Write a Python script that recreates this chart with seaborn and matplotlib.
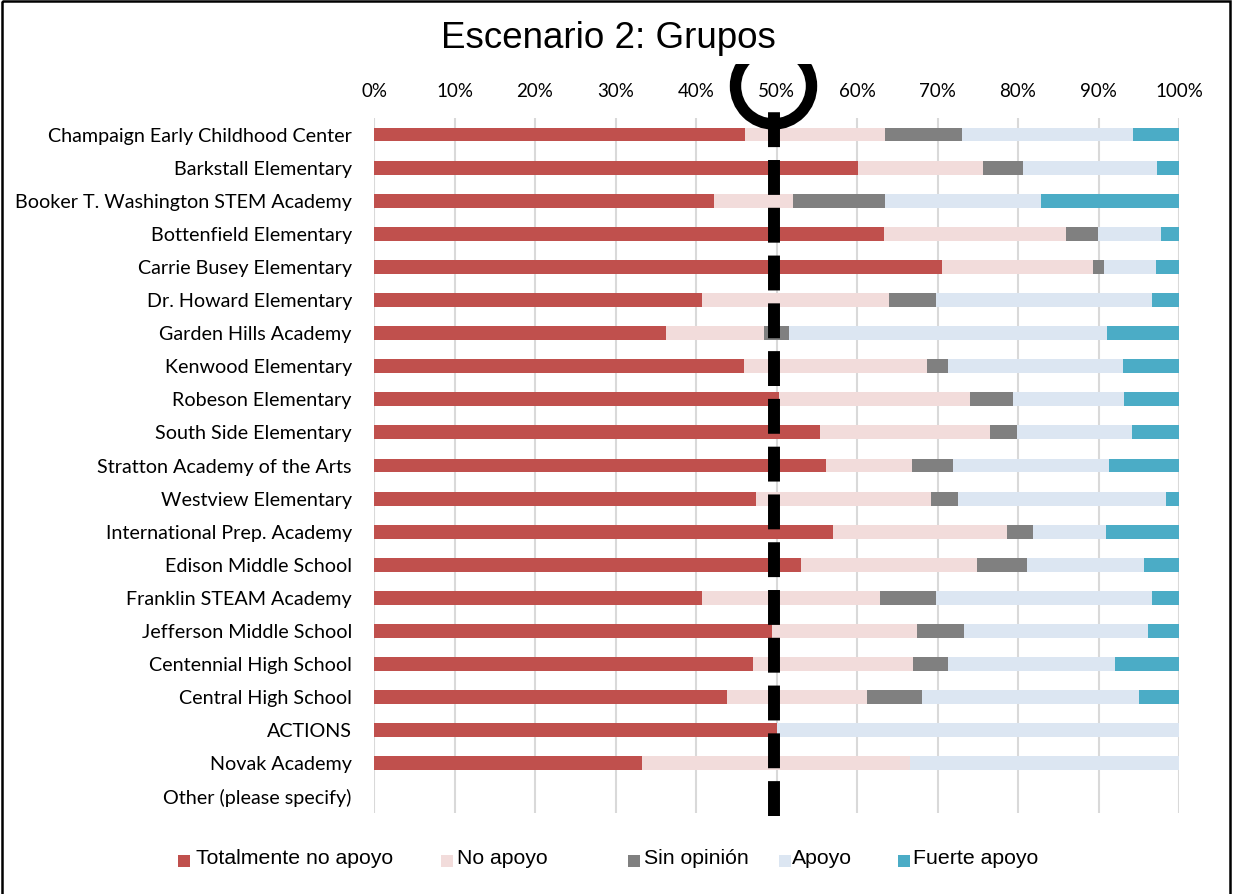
import numpy as np
import pandas as pd
import matplotlib
matplotlib.use("Agg")
import matplotlib.pyplot as plt
import seaborn as sns
from matplotlib.patches import Rectangle, Circle

# data (percent of responses per school)
schools = [
    "Champaign Early Childhood Center", "Barkstall Elementary",
    "Booker T. Washington STEM Academy", "Bottenfield Elementary",
    "Carrie Busey Elementary", "Dr. Howard Elementary", "Garden Hills Academy",
    "Kenwood Elementary", "Robeson Elementary", "South Side Elementary",
    "Stratton Academy of the Arts", "Westview Elementary",
    "International Prep. Academy", "Edison Middle School",
    "Franklin STEAM Academy", "Jefferson Middle School",
    "Centennial High School", "Central High School", "ACTIONS",
    "Novak Academy", "Other (please specify)",
]
totalmente_no = [46.1, 60.1, 42.2, 63.3, 70.6, 40.7, 36.3, 46.0, 50.3, 55.4,
                 56.2, 47.5, 57.0, 53.1, 40.7, 49.5, 47.1, 43.9, 50.0, 33.3, 0]
no_apoyo = [17.4, 15.5, 9.8, 22.7, 18.7, 23.3, 12.2, 22.7, 23.7, 21.1,
            10.6, 21.7, 21.6, 21.8, 22.1, 17.9, 19.9, 17.3, 0, 33.3, 0]
sin_opinion = [9.6, 5.0, 11.5, 3.9, 1.4, 5.8, 3.0, 2.6, 5.4, 3.4,
               5.1, 3.3, 3.3, 6.2, 7.0, 5.9, 4.3, 6.9, 0, 0, 0]
apoyo = [21.2, 16.7, 19.3, 7.9, 6.4, 26.8, 39.5, 21.8, 13.8, 14.3,
         19.4, 25.9, 9.0, 14.5, 26.8, 22.9, 20.7, 26.9, 50.0, 33.4, 0]
fuerte = [5.7, 2.7, 17.2, 2.2, 2.9, 3.4, 9.0, 6.9, 6.8, 5.8,
          8.7, 1.6, 9.1, 4.4, 3.4, 3.8, 8.0, 5.0, 0, 0, 0]

series_names = ["Totalmente no apoyo", "No apoyo", "Sin opinión", "Apoyo", "Fuerte apoyo"]
colors = ["#C0504D", "#F2DCDB", "#808080", "#DCE6F2", "#4BACC6"]
tick_values = list(range(0, 101, 10))
tick_labels = [f"{v}%" for v in tick_values]
marker_pos = 49.7  # the hand-drawn dashed marker sits just left of 50%

df = pd.DataFrame(dict(zip(series_names,
                           [totalmente_no, no_apoyo, sin_opinion, apoyo, fuerte])),
                  index=schools)
cum = df.cumsum(axis=1)

sns.set_theme(style="white")
plt.rcParams["font.family"] = ["Liberation Sans", "DejaVu Sans"]
plt.rcParams["text.color"] = "black"

W, H = 1236, 894
fig = plt.figure(figsize=(W / 100, H / 100), dpi=100)
ax = fig.add_axes([374 / W, 81 / H, 805 / W, 695 / H])

# stacked bars: draw cumulative totals from the largest down
for name, color in reversed(list(zip(series_names, colors))):
    sns.barplot(x=cum[name].values, y=schools, color=color, width=0.42,
                linewidth=0, saturation=1, errorbar=None, orient="h", ax=ax)

ax.set_xlim(0, 100)
ax.set_ylim(20.5, -0.5)
ax.set_xticks(tick_values)
ax.set_xticklabels(tick_labels)
ax.xaxis.tick_top()
ax.tick_params(axis="x", length=0, pad=13, labelsize=13.5)
ax.tick_params(axis="y", length=0, pad=16, labelsize=14.2)
for lab in ax.get_xticklabels() + ax.get_yticklabels():
    lab.set_family(["Lato", "DejaVu Sans"])
    lab.set_color("black")
ax.grid(axis="x", color="#D9D9D9", linewidth=1.5)
ax.grid(axis="y", visible=False)
ax.set_axisbelow(True)
ax.set_xlabel("")
ax.set_ylabel("")
for s in ax.spines.values():
    s.set_visible(False)

# thick dashed line near 50%
ax.plot([marker_pos, marker_pos], [20.59, -0.77], color="black", linewidth=8.6,
        dashes=(2.92, 1.08), dash_capstyle="butt", clip_on=False, zorder=5)

# overlay in pixel coordinates for title, circle, border and legend
ov = fig.add_axes([0, 0, 1, 1])
ov.set_xlim(0, W)
ov.set_ylim(H, 0)
ov.axis("off")

ov.text(608, 48, "Escenario 2: Grupos", ha="center", va="baseline", fontsize=26.5)

clip = Rectangle((0, 64), W, H, transform=ov.transData)
ring = Circle((773.5, 86), 38, fill=False, edgecolor="black", linewidth=8.2)
ov.add_patch(ring)
ring.set_clip_path(clip)

ov.add_patch(Rectangle((1.5, 1.3), 1228, 1000, fill=False, edgecolor="black",
                       linewidth=1.8, clip_on=False))

legend_square_x = [178, 441, 628, 779, 898]
legend_text_x = [196, 457, 644, 792, 913]
for name, color, sx, tx in zip(series_names, colors, legend_square_x, legend_text_x):
    ov.add_patch(Rectangle((sx, 855), 12, 12, facecolor=color, edgecolor="none"))
    ov.text(tx, 864, name, ha="left", va="baseline", fontsize=15.3)

fig.savefig("out.png", dpi=100)
